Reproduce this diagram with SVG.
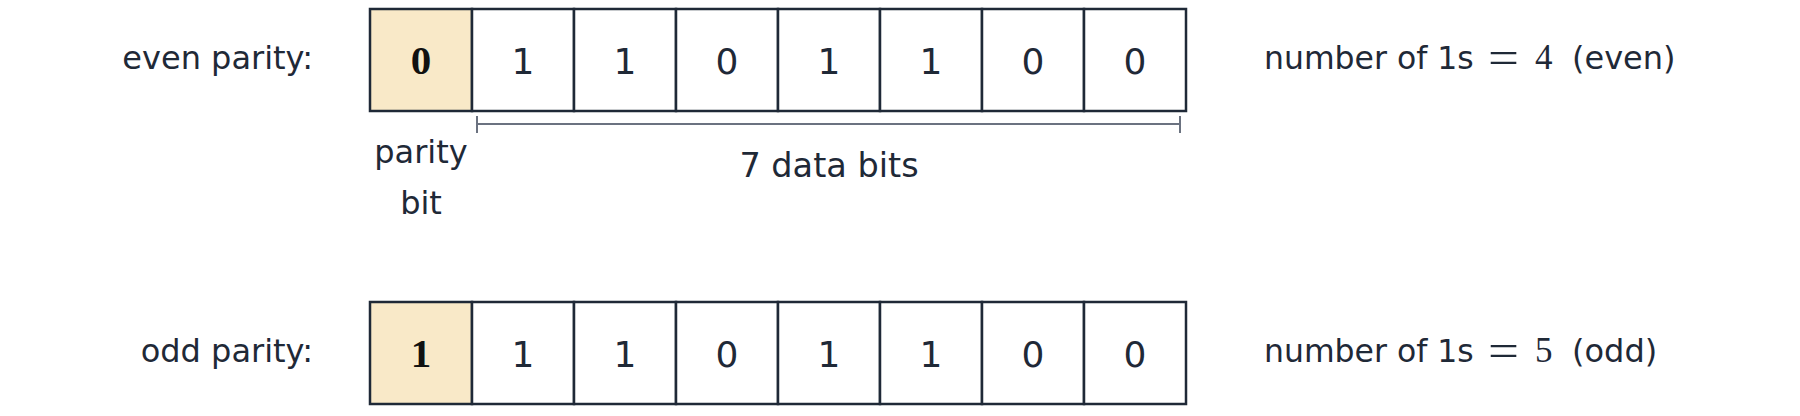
<svg xmlns="http://www.w3.org/2000/svg" width="1800" height="416" viewBox="0 0 1800 416">
<style>
text{font-family:"DejaVu Sans",sans-serif;fill:#1f2937;font-size:32px}
.lbl{text-anchor:end}
.mid{text-anchor:middle}
.d{font-size:36px;text-anchor:middle}
.cell{fill:#ffffff;stroke:#1f2937;stroke-width:2.5}
.par{fill:#f9e9c8;stroke:#1f2937;stroke-width:2.5}
.pb{font-family:"Liberation Serif",serif;font-weight:bold;font-size:41px;text-anchor:middle;fill:#111111}
.eq{font-family:"Liberation Serif",serif;font-size:46px}
.m{font-family:"Liberation Serif",serif;font-size:35px}
.br{stroke:#6b7280;stroke-width:2;fill:none}
</style>
<rect width="1800" height="416" fill="#ffffff"/>
<g id="even-row">
<text class="lbl" x="313" y="69">even parity:</text>
<rect class="par" x="370" y="9" width="102" height="102"/>
<rect class="cell" x="472" y="9" width="102" height="102"/>
<rect class="cell" x="574" y="9" width="102" height="102"/>
<rect class="cell" x="676" y="9" width="102" height="102"/>
<rect class="cell" x="778" y="9" width="102" height="102"/>
<rect class="cell" x="880" y="9" width="102" height="102"/>
<rect class="cell" x="982" y="9" width="102" height="102"/>
<rect class="cell" x="1084" y="9" width="102" height="102"/>
<text class="pb" x="421" y="74">0</text>
<text class="d" x="523" y="74">1</text>
<text class="d" x="625" y="74">1</text>
<text class="d" x="727" y="74">0</text>
<text class="d" x="829" y="74">1</text>
<text class="d" x="931" y="74">1</text>
<text class="d" x="1033" y="74">0</text>
<text class="d" x="1135" y="74">0</text>
<text x="1264" y="69" style="font-size:31.5px">number of 1s</text>
<text class="eq" x="1488" y="73" textLength="31" lengthAdjust="spacingAndGlyphs">=</text>
<text class="m" x="1535" y="69">4</text>
<text x="1572" y="69">(even)</text>
</g>
<g id="annotations">
<path class="br" d="M477 124 H1180 M477 116 V133 M1180 116 V133"/>
<text class="mid" x="421" y="163">parity</text>
<text class="mid" x="421" y="214">bit</text>
<text class="mid" x="829" y="177" style="font-size:33.5px">7 data bits</text>
</g>
<g id="odd-row">
<text class="lbl" x="313" y="362">odd parity:</text>
<rect class="par" x="370" y="302" width="102" height="102"/>
<rect class="cell" x="472" y="302" width="102" height="102"/>
<rect class="cell" x="574" y="302" width="102" height="102"/>
<rect class="cell" x="676" y="302" width="102" height="102"/>
<rect class="cell" x="778" y="302" width="102" height="102"/>
<rect class="cell" x="880" y="302" width="102" height="102"/>
<rect class="cell" x="982" y="302" width="102" height="102"/>
<rect class="cell" x="1084" y="302" width="102" height="102"/>
<text class="pb" x="421" y="367">1</text>
<text class="d" x="523" y="367">1</text>
<text class="d" x="625" y="367">1</text>
<text class="d" x="727" y="367">0</text>
<text class="d" x="829" y="367">1</text>
<text class="d" x="931" y="367">1</text>
<text class="d" x="1033" y="367">0</text>
<text class="d" x="1135" y="367">0</text>
<text x="1264" y="362" style="font-size:31.5px">number of 1s</text>
<text class="eq" x="1488" y="366" textLength="31" lengthAdjust="spacingAndGlyphs">=</text>
<text class="m" x="1535" y="362">5</text>
<text x="1572" y="362">(odd)</text>
</g>
</svg>
